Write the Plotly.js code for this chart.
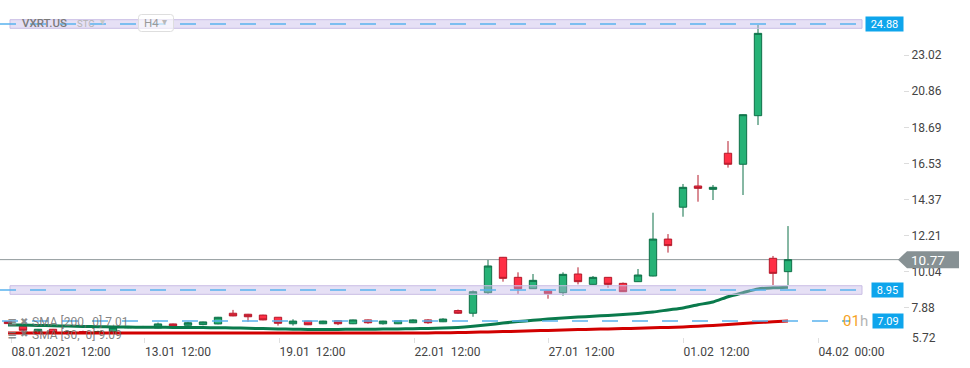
<!DOCTYPE html>
<html><head><meta charset="utf-8">
<script src="https://cdn.plot.ly/plotly-3.0.1.min.js"></script>
<style>html,body{margin:0;padding:0;background:#fff;}#chart{width:970px;height:368px;}</style>
</head><body><div id="chart"></div>
<script>
// ---------- data ----------
const candleIdx = [0,1,2,3,4,5,6,7,8,9,10,11,12,13,14,15,16,17,18,19,20,21,22,23,24,25,26,27,28,29,30,31,32,33,34,35,36,37,38,39,40,41,42,43,44,45,46,47,48,49,50,51,52];
const openVals  = [7.06,6.78,6.47,6.60,6.40,6.46,6.44,6.46,6.69,6.72,6.68,6.92,6.84,6.88,6.92,7.56,7.50,7.45,7.32,6.93,7.09,6.93,7.11,6.93,7.16,6.93,6.93,6.99,7.16,7.05,7.72,7.56,8.79,10.91,9.71,9.03,8.89,8.79,9.91,9.29,9.71,9.35,9.45,9.79,12.00,13.91,15.18,14.98,17.14,16.48,19.39,10.85,10.05];
const highVals  = [7.08,6.80,6.62,6.62,6.50,6.52,6.52,6.72,6.74,6.80,7.00,6.94,7.05,7.06,7.34,7.76,7.52,7.47,7.33,7.20,7.11,7.11,7.13,7.18,7.18,7.11,7.13,7.20,7.20,7.26,7.78,8.92,10.75,10.93,10.01,9.91,8.91,10.01,10.31,9.79,9.73,9.40,10.21,13.58,12.30,15.30,15.84,15.24,17.87,19.47,24.82,10.99,12.78];
const lowVals   = [6.92,6.52,6.45,6.38,6.36,6.40,6.42,6.44,6.66,6.70,6.66,6.78,6.82,6.84,6.90,7.38,7.05,7.14,6.82,6.82,6.85,6.91,6.85,6.91,6.93,6.88,6.91,6.97,6.93,7.03,7.52,7.35,8.72,9.45,8.72,9.01,8.43,8.61,9.29,9.27,9.09,8.83,9.43,9.77,11.19,13.34,14.24,14.34,16.28,14.64,18.83,9.25,9.25];
const closeVals = [6.94,6.54,6.60,6.40,6.46,6.44,6.46,6.69,6.72,6.74,6.92,6.80,6.99,7.04,7.32,7.40,7.35,7.16,6.96,7.09,6.87,7.09,6.93,7.16,6.99,7.09,7.11,7.16,6.99,7.21,7.56,8.85,10.39,9.65,9.03,9.53,8.73,9.89,9.45,9.71,9.29,8.85,9.85,12.00,11.61,15.10,15.04,15.10,16.48,19.45,24.32,9.95,10.77];
const sma30  = [6.86,6.85,6.83,6.81,6.79,6.77,6.75,6.74,6.73,6.72,6.72,6.71,6.70,6.70,6.69,6.68,6.66,6.64,6.62,6.60,6.59,6.59,6.59,6.60,6.60,6.61,6.62,6.63,6.65,6.67,6.71,6.78,6.87,6.97,7.06,7.14,7.21,7.27,7.33,7.38,7.43,7.49,7.55,7.63,7.76,7.88,8.07,8.23,8.55,8.79,9.02,9.08,9.12];
const sma200 = [6.38,6.38,6.38,6.38,6.38,6.38,6.38,6.38,6.38,6.38,6.38,6.38,6.38,6.38,6.38,6.38,6.38,6.38,6.38,6.38,6.38,6.38,6.38,6.38,6.38,6.38,6.38,6.38,6.38,6.39,6.40,6.42,6.44,6.46,6.48,6.51,6.53,6.56,6.58,6.60,6.62,6.64,6.66,6.69,6.71,6.74,6.78,6.83,6.88,6.94,7.00,7.05,7.10];
const yTickVals = [7.88,10.04,12.21,14.37,16.53,18.69,20.86,23.02];
const yBottomLabel = "5.72";
const xTickPos  = [0.2,9.1,18.07,27.07,36,45,54];
const xTickText = ["08.01.2021\u00a0\u00a0\u00a012:00","13.01\u00a0\u00a012:00","19.01\u00a0\u00a012:00","22.01\u00a0\u00a012:00","27.01\u00a0\u00a012:00","01.02\u00a0\u00a012:00","04.02\u00a0\u00a000:00"];
const bandLevels = [24.88, 8.95];
const lineLevel = 7.09;
const lastPrice = 10.77;
const sma200Label = "SMA [200,  0] 7.01";
const sma30Label  = "SMA [30,  0] 9.09";
const symbol = "VXRT.US";

// ---------- layout geometry ----------
const W = 970, H = 368, ML = 0, MR = 67, MT = 0, MB = 25;
const PW = W - ML - MR, PH = H - MT - MB;
const yRange = [5.778, 26.317];
const xRange = [-0.533, 59.667];
const pxp = p => (p - ML) / PW;                 // pixel x -> paper
const pyp = p => 1 - (p - MT) / PH;             // pixel y -> paper
const xi  = p => xRange[0] + (p - ML) / PW * (xRange[1] - xRange[0]);  // pixel x -> data x
const upp = (yRange[1] - yRange[0]) / PH;       // data units per pixel

const FONT = 'Roboto, "Noto Sans", sans-serif';

const traces = [
  {type:'candlestick', x:candleIdx, open:openVals, high:highVals, low:lowVals, close:closeVals,
   increasing:{fillcolor:'#26b276', line:{color:'#0f7048', width:1}},
   decreasing:{fillcolor:'#ff2f45', line:{color:'#b51a2b', width:1}},
   whiskerwidth:0, hoverinfo:'skip', showlegend:false},
  {type:'scatter', mode:'lines', x:candleIdx, y:sma200, line:{color:'#d10000', width:3, shape:'spline', smoothing:0.6}, hoverinfo:'skip'},
  {type:'scatter', mode:'lines', x:candleIdx, y:sma30, line:{color:'#0a7a4c', width:3, shape:'spline', smoothing:0.6}, hoverinfo:'skip'}
];

const shapes = [];
// current price line (behind candles)
shapes.push({type:'line', xref:'paper', yref:'y', x0:0, x1:pxp(899), y0:lastPrice, y1:lastPrice, line:{color:'#8f989b', width:1}, layer:'below'});
// bands
bandLevels.forEach(v => {
  shapes.push({type:'rect', xref:'x', yref:'y', x0:xi(10), x1:xi(862), y0:v - 4.3*upp, y1:v + 4.3*upp,
    fillcolor:'rgba(196,182,232,0.42)', line:{color:'#c9bde4', width:1}, layer:'above'});
  shapes.push({type:'line', xref:'paper', yref:'y', x0:0, x1:pxp(862), y0:v, y1:v, line:{color:'#5ab3ee', width:1.5, dash:'16px,14px'}, layer:'above'});
});
shapes.push({type:'line', xref:'paper', yref:'y', x0:pxp(2), x1:pxp(850), y0:lineLevel, y1:lineLevel, line:{color:'#5ab3ee', width:1.5, dash:'16px,14px'}, layer:'above'});
// last price arrow box
{
  const t = lastPrice + 8.5*upp, b = lastPrice - 8.5*upp;
  shapes.push({type:'path', xref:'paper', yref:'y',
    path:`M ${pxp(898)},${lastPrice} L ${pxp(907)},${t} L ${pxp(959)},${t} L ${pxp(959)},${b} L ${pxp(907)},${b} Z`,
    fillcolor:'#879194', line:{width:0}, layer:'above'});
}
// H4 rounded box in header
{
  const x0=pxp(138.5), x1=pxp(173.5), y0=pyp(14.5), y1=pyp(31.5), rx=pxp(141.5)-pxp(138.5), ry=pyp(14.5)-pyp(17.5);
  shapes.push({type:'path', xref:'paper', yref:'paper',
    path:`M ${x0+rx},${y0} L ${x1-rx},${y0} Q ${x1},${y0} ${x1},${y0-ry} L ${x1},${y1+ry} Q ${x1},${y1} ${x1-rx},${y1} L ${x0+rx},${y1} Q ${x0},${y1} ${x0},${y1+ry} L ${x0},${y0-ry} Q ${x0},${y0} ${x0+rx},${y0} Z`,
    fillcolor:'rgba(255,255,255,0.6)', line:{color:'#dedede', width:1}, layer:'above'});
}

const ann = [];
const A = o => ann.push(Object.assign({showarrow:false, xref:'paper', yref:'paper', borderpad:0, font:{family:FONT}}, o));
// header
A({text:symbol, x:pxp(21), y:pyp(23), xanchor:'left', yanchor:'middle', font:{family:FONT, size:11.5, color:'#7a7a7a', weight:500}});
A({text:'STC', x:pxp(76), y:pyp(23), xanchor:'left', yanchor:'middle', font:{family:FONT, size:9.5, color:'#b5b5b5'}});
A({text:'▾', x:pxp(99), y:pyp(22), xanchor:'left', yanchor:'middle', font:{family:FONT, size:10, color:'#c8c8c8'}});
A({text:'H4', x:pxp(143), y:pyp(23), xanchor:'left', yanchor:'middle', font:{family:FONT, size:11.5, color:'#9a9a9a'}});
A({text:'▾', x:pxp(161), y:pyp(22), xanchor:'left', yanchor:'middle', font:{family:FONT, size:10, color:'#b8b8b8'}});
// price boxes
[[bandLevels[0],865,37],[bandLevels[1],871,31],[lineLevel,872,30]].forEach(([v,x,w]) => {
  A({text:v.toFixed(2), yref:'y', y:v, x:pxp(x), xanchor:'left', yanchor:'middle', width:w, height:14, align:'center',
     bgcolor:'#0ea5ec', font:{family:FONT, size:11, color:'#ffffff'}});
});
A({text:lastPrice.toFixed(2), yref:'y', y:lastPrice, x:pxp(910), xanchor:'left', yanchor:'middle', font:{family:FONT, size:13.5, color:'#ffffff'}});
A({text:'<span style="color:#f5a31f">01</span><span style="color:#b4b4b4">h</span>', yref:'y', y:lineLevel, x:pxp(842), xanchor:'left', yanchor:'middle', font:{family:FONT, size:15}});
A({text:yBottomLabel, x:pxp(911), y:pyp(338), xanchor:'left', yanchor:'middle', font:{family:FONT, size:12, color:'#444'}});
// indicator legend
[[322, sma200Label],[334.5, sma30Label]].forEach(([yy, lbl]) => {
  A({text:'<b>≡</b>', x:pxp(6), y:pyp(yy), xanchor:'left', yanchor:'middle', font:{family:'DejaVu Sans', size:12, color:'rgba(120,120,120,0.85)'}});
  A({text:'✖', x:pxp(19), y:pyp(yy-1), xanchor:'left', yanchor:'middle', font:{family:'DejaVu Sans', size:10, color:'rgba(120,120,120,0.85)'}});
  A({text:lbl, x:pxp(31), y:pyp(yy), xanchor:'left', yanchor:'middle', font:{family:FONT, size:12, color:'rgba(110,110,110,0.85)'}});
});

const layout = {
  width:W, height:H, margin:{l:ML, r:MR, t:MT, b:MB, pad:0},
  paper_bgcolor:'#ffffff', plot_bgcolor:'#ffffff', showlegend:false, hovermode:false,
  font:{family:FONT, size:12, color:'#444'},
  xaxis:{range:xRange, tickmode:'array', tickvals:xTickPos, ticktext:xTickText, ticks:'inside', ticklen:5, tickcolor:'#e0e0e0', tickwidth:1,
         showgrid:false, zeroline:false, showline:false, ticklabelposition:'outside right', tickfont:{family:FONT, size:12, color:'#444'},
         rangeslider:{visible:false}, fixedrange:true},
  yaxis:{side:'right', range:yRange, tickmode:'array', tickvals:yTickVals, ticktext:yTickVals.map(v=>v.toFixed(2)), ticks:'outside', ticklen:5, tickcolor:'#dcdcdc',
         showgrid:false, zeroline:false, showline:false, tickfont:{family:FONT, size:12, color:'#444'}, fixedrange:true},
  shapes:shapes, annotations:ann
};
Plotly.newPlot('chart', traces, layout, {staticPlot:true, displayModeBar:false});
</script></body></html>
